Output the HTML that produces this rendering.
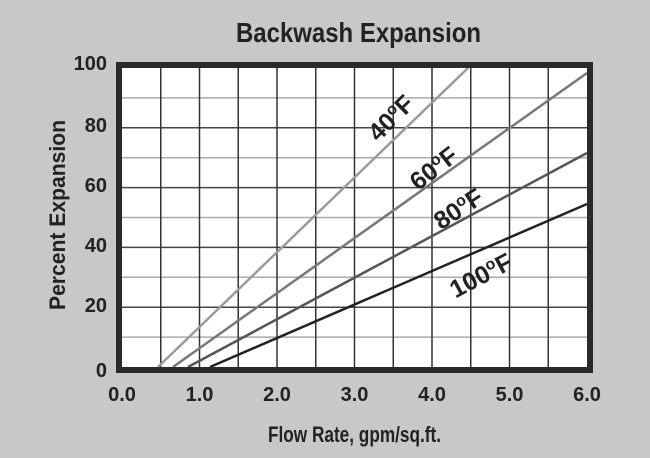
<!DOCTYPE html>
<html><head><meta charset="utf-8"><style>
body{margin:0;background:#c8c8c8;}
svg{display:block;font-family:"Liberation Sans Narrow","Liberation Sans",sans-serif;font-weight:bold;fill:#222;}
</style></head><body>
<svg width="650" height="458" viewBox="0 0 650 458">
<rect width="650" height="458" fill="#c8c8c8"/>
<text x="236" y="42" font-size="28" textLength="245" lengthAdjust="spacingAndGlyphs">Backwash Expansion</text>
<rect x="122" y="68" width="465" height="299" fill="#fff"/>
<g stroke-width="1.5">
<line x1="122" x2="587" y1="97.9" y2="97.9" stroke="#aaa"/>
<line x1="122" x2="587" y1="127.8" y2="127.8" stroke="#444"/>
<line x1="122" x2="587" y1="157.7" y2="157.7" stroke="#aaa"/>
<line x1="122" x2="587" y1="187.6" y2="187.6" stroke="#444"/>
<line x1="122" x2="587" y1="217.5" y2="217.5" stroke="#aaa"/>
<line x1="122" x2="587" y1="247.4" y2="247.4" stroke="#444"/>
<line x1="122" x2="587" y1="277.3" y2="277.3" stroke="#aaa"/>
<line x1="122" x2="587" y1="307.2" y2="307.2" stroke="#444"/>
<line x1="122" x2="587" y1="337.1" y2="337.1" stroke="#aaa"/>
</g>
<g stroke="#333" stroke-width="1.5">
<line x1="160.75" x2="160.75" y1="68" y2="367"/><line x1="199.5" x2="199.5" y1="68" y2="367"/>
<line x1="238.25" x2="238.25" y1="68" y2="367"/><line x1="277" x2="277" y1="68" y2="367"/>
<line x1="315.75" x2="315.75" y1="68" y2="367"/><line x1="354.5" x2="354.5" y1="68" y2="367"/>
<line x1="393.25" x2="393.25" y1="68" y2="367"/><line x1="432" x2="432" y1="68" y2="367"/>
<line x1="470.75" x2="470.75" y1="68" y2="367"/><line x1="509.5" x2="509.5" y1="68" y2="367"/>
<line x1="548.25" x2="548.25" y1="68" y2="367"/>
</g>
<g stroke-width="2.5" fill="none">
<line x1="158" y1="367" x2="468" y2="68" stroke="#9a9a9a"/>
<line x1="173" y1="367" x2="587" y2="73" stroke="#777"/>
<line x1="188" y1="367" x2="587" y2="153" stroke="#555"/>
<line x1="210" y1="367" x2="587" y2="204" stroke="#222"/>
</g>
<rect x="119" y="65" width="471" height="305" fill="none" stroke="#2a2a2a" stroke-width="6"/>
<g font-size="25">
<text transform="translate(397,124) rotate(-45)" text-anchor="middle">40<tspan font-size="16" dy="-9">o</tspan><tspan dy="9">F</tspan></text>
<text transform="translate(439,175) rotate(-38)" text-anchor="middle">60<tspan font-size="16" dy="-9">o</tspan><tspan dy="9">F</tspan></text>
<text transform="translate(463,216) rotate(-33)" text-anchor="middle">80<tspan font-size="16" dy="-9">o</tspan><tspan dy="9">F</tspan></text>
<text transform="translate(485,283) rotate(-28)" text-anchor="middle">100<tspan font-size="16" dy="-9">o</tspan><tspan dy="9">F</tspan></text>
</g>
<g font-size="20" text-anchor="end">
<text x="107" y="70">100</text><text x="107" y="132">80</text><text x="107" y="192">60</text>
<text x="107" y="252">40</text><text x="107" y="312">20</text><text x="107" y="377">0</text>
</g>
<g font-size="20" text-anchor="middle">
<text x="122" y="401">0.0</text><text x="199.5" y="401">1.0</text><text x="277" y="401">2.0</text>
<text x="354.5" y="401">3.0</text><text x="432" y="401">4.0</text><text x="509.5" y="401">5.0</text><text x="587" y="401">6.0</text>
</g>
<text x="268" y="442" font-size="22" textLength="173" lengthAdjust="spacingAndGlyphs">Flow Rate, gpm/sq.ft.</text>
<text transform="translate(65,310) rotate(-90)" font-size="22" textLength="190" lengthAdjust="spacingAndGlyphs">Percent Expansion</text>
</svg>
</body></html>
